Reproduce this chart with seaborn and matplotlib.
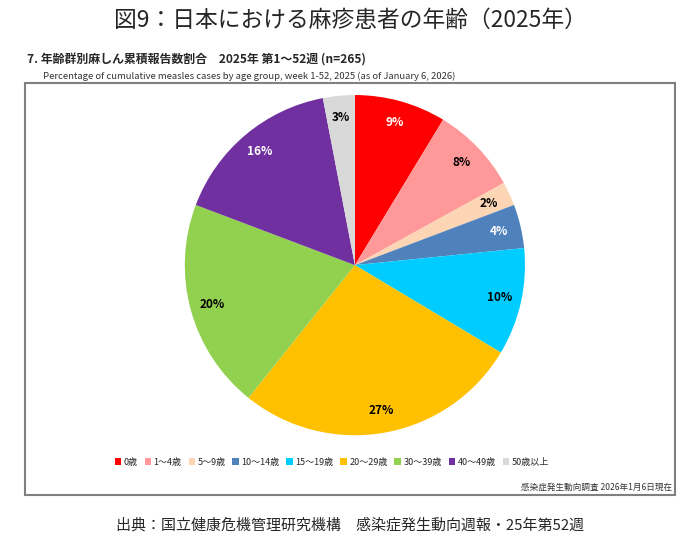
import matplotlib
matplotlib.use("Agg")
import matplotlib.pyplot as plt
from matplotlib.patches import Patch, Rectangle
import seaborn as sns

# age groups and estimated case counts (n=265)
age_groups = ['0歳', '1～4歳', '5～9歳', '10～14歳', '15～19歳',
              '20～29歳', '30～39歳', '40～49歳', '50歳以上']
cases = [23, 22, 6, 11, 27, 72, 53, 43, 8]
colors = ['#FF0000', '#FF9999', '#FCD5B5', '#4F81BD', '#00CCFF',
          '#FFC000', '#92D050', '#7030A0', '#D9D9D9']
label_colors = ['white', 'black', 'black', 'white', 'black',
                'black', 'black', 'white', 'black']

sns.set_theme(style="white")
plt.rcParams['font.family'] = ['Noto Sans CJK JP', 'DejaVu Sans']

fig = plt.figure(figsize=(7, 5.4), dpi=100)

# frame around the chart
fig.patches.append(Rectangle((25 / 700, 1 - 495 / 540), 650 / 700, 412 / 540,
                             transform=fig.transFigure, fill=False,
                             edgecolor='#808080', lw=1.5))

ax = fig.add_axes([0.264, 0.194, 0.486, 0.63])
wedges, texts, autotexts = ax.pie(
    cases, colors=colors, startangle=90, counterclock=False,
    autopct=lambda p: f'{p:.0f}%', pctdistance=0.87,
    wedgeprops=dict(linewidth=0), textprops=dict(fontsize=8.5, fontweight='bold'))
for t, c in zip(autotexts, label_colors):
    t.set_color(c)
ax.set_xlim(-1.0, 1.0)
ax.set_ylim(-1.0, 1.0)
ax.set_aspect('equal')

fig.text(0.5, 0.962, '図9：日本における麻疹患者の年齢（2025年）',
         ha='center', va='center', fontsize=16.4)
fig.text(27 / 700, 1 - 60 / 540, '7. 年齢群別麻しん累積報告数割合　2025年 第1～52週 (n=265)',
         ha='left', va='center', fontsize=8.6, fontweight='bold')
fig.text(43 / 700, 1 - 76 / 540,
         'Percentage of cumulative measles cases by age group, week 1-52, 2025 (as of January 6, 2026)',
         ha='left', va='center', fontsize=6.8, color='#333333')

handles = [Patch(facecolor=c, edgecolor='none') for c in colors]
fig.legend(handles, age_groups, loc='center', bbox_to_anchor=(0.474, 1 - 462 / 540),
           ncol=9, frameon=False, fontsize=6.5, handlelength=0.7, handleheight=0.7,
           handletextpad=0.3, columnspacing=0.75)

fig.text(672 / 700, 1 - 487 / 540, '感染症発生動向調査 2026年1月6日現在',
         ha='right', va='center', fontsize=6.2, color='#333333')

fig.text(0.5, 1 - 525 / 540, '出典：国立健康危機管理研究機構　感染症発生動向週報・25年第52週',
         ha='center', va='center', fontsize=10.8)

fig.savefig('out.png', dpi=100)
